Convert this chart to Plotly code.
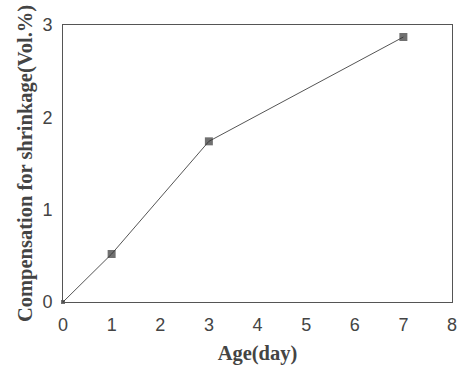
import plotly.graph_objects as go

age = [0, 1, 3, 7]
compensation = [0.0, 0.52, 1.74, 2.87]

x_ticks = [0, 1, 2, 3, 4, 5, 6, 7, 8]
y_ticks = [0, 1, 2, 3]

fig = go.Figure()
fig.add_trace(go.Scatter(
    x=age, y=compensation, mode="lines+markers",
    line=dict(color="#555555", width=1),
    marker=dict(symbol="square", size=[4, 8, 8, 8], color="#333333",
                line=dict(width=0)),
    cliponaxis=False,
))

tick_font = dict(family="Liberation Sans, Arial, sans-serif", size=18, color="#444444")
title_font = dict(family="Liberation Serif, Times New Roman, serif", size=20.5, color="#444444")

fig.update_layout(
    width=463, height=365,
    margin=dict(l=63, r=11, t=25, b=63),
    paper_bgcolor="white", plot_bgcolor="white",
    showlegend=False,
    xaxis=dict(
        range=[0, 8], tickvals=x_ticks, showgrid=False, zeroline=False,
        showline=True, linecolor="#555555", linewidth=1, mirror=True,
        ticks="", tickfont=tick_font, automargin=False, ticklabelstandoff=6,
        title=dict(text="<b>Age(day)</b>", font=title_font, standoff=15),
    ),
    yaxis=dict(
        range=[0, 3], tickvals=y_ticks, showgrid=False, zeroline=False,
        showline=True, linecolor="#555555", linewidth=1, mirror=True,
        ticks="", tickfont=tick_font, automargin=False, ticklabelstandoff=6,
        title=dict(text="<b>Compensation for shrinkage(Vol.%)</b>", font=title_font, standoff=4),
    ),
)

fig.write_html(
    "out.html",
    config={"displayModeBar": False},
    post_script="document.body.style.margin='0';document.body.style.overflow='hidden';",
)
